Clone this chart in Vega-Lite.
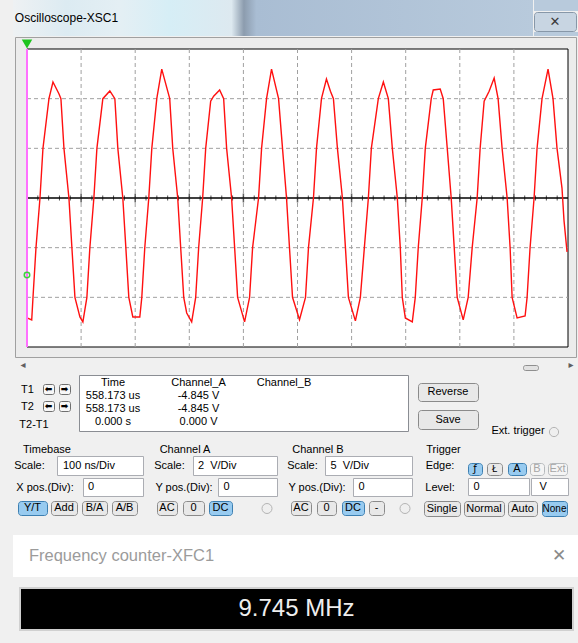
{
"$schema": "https://vega.github.io/schema/vega-lite/v6.json",
"background": "#f0f0f0",
"padding": {"left": 13, "top": 0, "right": 0, "bottom": 0},
"config": {"view": {"stroke": null}, "text": {"font": "Liberation Sans", "fontSize": 11, "color": "#000000"}, "concat": {"spacing": 0}},
"spacing": 0,
"vconcat": [
 {"spacing": 0, "hconcat": [
  {"width": 107, "height": 36, "data": {"values": [{}]}, "mark": {"type": "text", "text": "Oscilloscope-XSC1", "fontSize": 12}, "view": {"fill": {"gradient": "linear", "x1": 0, "y1": 0, "x2": 1, "y2": 0, "stops": [{"offset": 0, "color": "#eef1f3"}, {"offset": 0.5, "color": "#dcebf2"}, {"offset": 1, "color": "#e4eff4"}]}}},
  {"width": 413, "height": 36, "data": {"values": []}, "mark": "point", "view": {"fill": {"gradient": "linear", "x1": 0, "y1": 0, "x2": 1, "y2": 0, "stops": [{"offset": 0, "color": "#e4eff4"}, {"offset": 0.12, "color": "#d6eef6"}, {"offset": 0.27, "color": "#dde9f0"}, {"offset": 0.3, "color": "#8c9cae"}, {"offset": 0.33, "color": "#a9bdd3"}, {"offset": 1, "color": "#b8cadc"}]}}},
  {"spacing": 0, "vconcat": [
   {"width": 44, "height": 11, "data": {"values": []}, "mark": "point", "view": {"fill": "#b8cadc"}},
   {"width": 42, "height": 19, "data": {"values": [{}]}, "mark": {"type": "text", "text": "✕", "fontSize": 13, "color": "#3a3a3a", "font": "DejaVu Sans"}, "view": {"fill": "#c8d5e2", "stroke": "#8797a8", "cornerRadius": 3}},
   {"width": 44, "height": 4, "data": {"values": []}, "mark": "point", "view": {"fill": "#b8cadc"}}
  ]}
 ]},
 {"spacing": 0, "hconcat": [
  {"width": 1, "height": 321, "data": {"values": []}, "mark": "point"},
  {"width": 561, "height": 320,
   "view": {"fill": "#ececec", "stroke": "#a0a0a0"},
   "layer": [
    {"data": {"values": [{}]},
     "mark": {"type": "rect", "fill": "#ffffff", "stroke": "#000000", "strokeWidth": 1},
     "encoding": {
      "x": {"datum": 0, "type": "quantitative", "scale": {"domain": [0, 1000], "range": [12, 553], "nice": false, "zero": false}, "axis": null},
      "x2": {"datum": 1000},
      "y": {"datum": -6, "type": "quantitative", "scale": {"domain": [-6, 6], "range": [310, 12], "nice": false, "zero": false}, "axis": null},
      "y2": {"datum": 6}}},
    {"data": {"values": [{"t": 100}, {"t": 200}, {"t": 300}, {"t": 400}, {"t": 500}, {"t": 600}, {"t": 700}, {"t": 800}, {"t": 900}]},
     "mark": {"type": "rule", "color": "#a0a0a0", "strokeDash": [4, 3], "strokeWidth": 1},
     "encoding": {"x": {"field": "t", "type": "quantitative"}, "y": {"datum": -6, "type": "quantitative"}, "y2": {"datum": 6}}},
    {"data": {"values": [{"v": -4}, {"v": -2}, {"v": 2}, {"v": 4}]},
     "mark": {"type": "rule", "color": "#a0a0a0", "strokeDash": [4, 3], "strokeWidth": 1},
     "encoding": {"y": {"field": "v", "type": "quantitative"}, "x": {"datum": 0, "type": "quantitative"}, "x2": {"datum": 1000}}},
    {"data": {"values": [{}]},
     "mark": {"type": "rule", "color": "#000000", "strokeWidth": 1.5},
     "encoding": {"y": {"datum": 0, "type": "quantitative"}, "x": {"datum": 0, "type": "quantitative"}, "x2": {"datum": 1000}}},
    {"data": {"values": [{"t": 20}, {"t": 40}, {"t": 60}, {"t": 80}, {"t": 120}, {"t": 140}, {"t": 160}, {"t": 180}, {"t": 220}, {"t": 240}, {"t": 260}, {"t": 280}, {"t": 320}, {"t": 340}, {"t": 360}, {"t": 380}, {"t": 420}, {"t": 440}, {"t": 460}, {"t": 480}, {"t": 520}, {"t": 540}, {"t": 560}, {"t": 580}, {"t": 620}, {"t": 640}, {"t": 660}, {"t": 680}, {"t": 720}, {"t": 740}, {"t": 760}, {"t": 780}, {"t": 820}, {"t": 840}, {"t": 860}, {"t": 880}, {"t": 920}, {"t": 940}, {"t": 960}, {"t": 980}]},
     "mark": {"type": "tick", "orient": "vertical", "color": "#000000", "size": 5, "thickness": 1},
     "encoding": {"x": {"field": "t", "type": "quantitative"}, "y": {"datum": 0, "type": "quantitative"}}},
    {"data": {"values": [{"t": 100}, {"t": 200}, {"t": 300}, {"t": 400}, {"t": 500}, {"t": 600}, {"t": 700}, {"t": 800}, {"t": 900}]},
     "mark": {"type": "tick", "orient": "vertical", "color": "#202020", "size": 9, "thickness": 1.5},
     "encoding": {"x": {"field": "t", "type": "quantitative"}, "y": {"datum": 0, "type": "quantitative"}}},
    {"data": {"values": [
      {"t": 0, "v": -4.83}, {"t": 8.7, "v": -4.91}, {"t": 11.1, "v": -4.0}, {"t": 16.6, "v": -2.0}, {"t": 24.0, "v": 0}, {"t": 29.5, "v": 2.0}, {"t": 40.6, "v": 4.0}, {"t": 48.0, "v": 4.67}, {"t": 59.0, "v": 4.2}, {"t": 62.7, "v": 4.0}, {"t": 68.3, "v": 2.0}, {"t": 77.5, "v": 0},
      {"t": 83.0, "v": -2.0}, {"t": 88.6, "v": -4.0}, {"t": 97.8, "v": -4.79}, {"t": 103.3, "v": -4.99}, {"t": 110.7, "v": -4.0}, {"t": 116.2, "v": -2.0}, {"t": 123.6, "v": 0}, {"t": 129.2, "v": 2.0}, {"t": 140.2, "v": 4.0}, {"t": 153.1, "v": 4.31}, {"t": 162.4, "v": 4.0}, {"t": 167.9, "v": 2.0}, {"t": 177.1, "v": 0},
      {"t": 182.7, "v": -2.0}, {"t": 188.2, "v": -4.0}, {"t": 195.6, "v": -4.79}, {"t": 208.5, "v": -4.79}, {"t": 212.2, "v": -4.0}, {"t": 217.7, "v": -2.0}, {"t": 225.1, "v": 0}, {"t": 230.7, "v": 2.0}, {"t": 239.9, "v": 4.0}, {"t": 249.1, "v": 5.19}, {"t": 263.8, "v": 4.0}, {"t": 269.4, "v": 2.0}, {"t": 278.6, "v": 0},
      {"t": 284.1, "v": -2.0}, {"t": 289.7, "v": -4.0}, {"t": 295.2, "v": -4.63}, {"t": 304.4, "v": -4.99}, {"t": 311.8, "v": -4.0}, {"t": 317.3, "v": -2.0}, {"t": 324.7, "v": 0}, {"t": 330.3, "v": 2.0}, {"t": 339.5, "v": 3.9}, {"t": 345.0, "v": 4.1}, {"t": 356.1, "v": 4.35}, {"t": 363.5, "v": 4.0}, {"t": 369.0, "v": 2.0}, {"t": 378.2, "v": 0},
      {"t": 383.8, "v": -2.0}, {"t": 389.3, "v": -4.0}, {"t": 402.2, "v": -4.99}, {"t": 411.4, "v": -4.0}, {"t": 417.0, "v": -2.0}, {"t": 428.0, "v": 0}, {"t": 433.6, "v": 2.0}, {"t": 442.8, "v": 4.0}, {"t": 452.0, "v": 5.19}, {"t": 465.0, "v": 4.0}, {"t": 472.3, "v": 2.0}, {"t": 479.7, "v": 0},
      {"t": 485.2, "v": -2.0}, {"t": 490.8, "v": -4.0}, {"t": 503.7, "v": -4.9}, {"t": 514.8, "v": -4.0}, {"t": 520.3, "v": -2.0}, {"t": 529.5, "v": 0}, {"t": 535.1, "v": 2.0}, {"t": 544.3, "v": 4.0}, {"t": 553.5, "v": 4.79}, {"t": 560.9, "v": 4.3}, {"t": 566.4, "v": 4.0}, {"t": 573.8, "v": 2.0}, {"t": 583.0, "v": 0},
      {"t": 588.6, "v": -2.0}, {"t": 594.1, "v": -4.0}, {"t": 607.0, "v": -4.95}, {"t": 616.2, "v": -4.0}, {"t": 623.6, "v": -2.0}, {"t": 631.0, "v": 0}, {"t": 636.5, "v": 2.0}, {"t": 649.4, "v": 4.0}, {"t": 658.7, "v": 4.67}, {"t": 667.9, "v": 4.0}, {"t": 675.3, "v": 2.0}, {"t": 684.5, "v": 0},
      {"t": 690.0, "v": -2.0}, {"t": 693.7, "v": -4.0}, {"t": 699.3, "v": -4.83}, {"t": 712.2, "v": -4.99}, {"t": 717.7, "v": -4.0}, {"t": 723.2, "v": -2.0}, {"t": 730.6, "v": 0}, {"t": 736.2, "v": 2.0}, {"t": 747.2, "v": 4.0}, {"t": 750.9, "v": 4.35}, {"t": 763.8, "v": 4.39}, {"t": 769.4, "v": 4.0}, {"t": 776.8, "v": 2.0}, {"t": 784.1, "v": 0},
      {"t": 789.7, "v": -2.0}, {"t": 795.2, "v": -4.0}, {"t": 806.3, "v": -4.91}, {"t": 815.5, "v": -4.0}, {"t": 822.9, "v": -2.0}, {"t": 832.1, "v": 0}, {"t": 837.6, "v": 2.0}, {"t": 845.0, "v": 3.9}, {"t": 854.2, "v": 4.3}, {"t": 863.5, "v": 4.83}, {"t": 870.8, "v": 4.0}, {"t": 878.2, "v": 2.0}, {"t": 887.5, "v": 0},
      {"t": 893.0, "v": -2.0}, {"t": 896.7, "v": -4.0}, {"t": 905.9, "v": -4.83}, {"t": 920.7, "v": -4.75}, {"t": 924.4, "v": -4.0}, {"t": 929.9, "v": -2.0}, {"t": 937.3, "v": 0}, {"t": 942.8, "v": 2.0}, {"t": 952.0, "v": 4.0}, {"t": 963.1, "v": 5.19}, {"t": 972.3, "v": 4.0}, {"t": 979.7, "v": 2.0}, {"t": 988.9, "v": 0.4}, {"t": 992.6, "v": -0.9}, {"t": 998.2, "v": -2.17}
     ]},
     "mark": {"type": "line", "color": "#ff1010", "strokeWidth": 1.4},
     "encoding": {"x": {"field": "t", "type": "quantitative"}, "y": {"field": "v", "type": "quantitative"}}},
    {"data": {"values": [{}]},
     "mark": {"type": "rule", "color": "#ff70ff", "strokeWidth": 2},
     "encoding": {"x": {"datum": 0, "type": "quantitative"}, "y": {"datum": -6, "type": "quantitative"}, "y2": {"datum": 6}}},
    {"data": {"values": [{"t": 0, "v": 6.2}]},
     "mark": {"type": "point", "shape": "triangle-down", "filled": true, "color": "#1fc41f", "size": 110, "opacity": 1},
     "encoding": {"x": {"field": "t", "type": "quantitative"}, "y": {"field": "v", "type": "quantitative"}}},
    {"data": {"values": [{"t": 0, "v": -3.1}]},
     "mark": {"type": "point", "shape": "circle", "filled": false, "color": "#3ad33a", "size": 30, "strokeWidth": 1.5, "opacity": 1},
     "encoding": {"x": {"field": "t", "type": "quantitative"}, "y": {"field": "v", "type": "quantitative"}}}
   ]}
 ]},
 {"spacing": 0, "hconcat": [
  {"width": 3, "height": 14, "data": {"values": []}, "mark": "point"},
  {"width": 14, "height": 14, "data": {"values": [{}]}, "mark": {"type": "text", "text": "◂", "font": "DejaVu Sans", "fontSize": 10, "color": "#606060"}},
  {"width": 492, "height": 14, "data": {"values": []}, "mark": "point"},
  {"spacing": 0, "vconcat": [
   {"width": 17, "height": 6, "data": {"values": []}, "mark": "point"},
   {"width": 15, "height": 5, "data": {"values": []}, "mark": "point", "view": {"fill": "#e2e2e2", "stroke": "#8f8f8f", "cornerRadius": 2}}
  ]},
  {"width": 24, "height": 14, "data": {"values": []}, "mark": "point"},
  {"width": 14, "height": 14, "data": {"values": [{}]}, "mark": {"type": "text", "text": "▸", "font": "DejaVu Sans", "fontSize": 10, "color": "#606060"}}
 ]},
 {"width": 10, "height": 2, "data": {"values": []}, "mark": "point"},
 {"spacing": 0, "hconcat": [
  {"spacing": 0, "vconcat": [
   {"width": 65, "height": 8, "data": {"values": []}, "mark": "point"},
   {"spacing": 0, "hconcat": [
    {"width": 29, "height": 12, "data": {"values": [{}]}, "mark": {"type": "text", "text": "T1"}},
    {"width": 11, "height": 10, "data": {"values": [{}]}, "mark": {"type": "text", "text": "⬅", "font": "DejaVu Sans", "fontSize": 9, "fontWeight": "bold"}, "view": {"fill": "#f7f7f7", "stroke": "#6f6f6f", "cornerRadius": 2}},
    {"width": 3, "height": 12, "data": {"values": []}, "mark": "point"},
    {"width": 11, "height": 10, "data": {"values": [{}]}, "mark": {"type": "text", "text": "➡", "font": "DejaVu Sans", "fontSize": 9, "fontWeight": "bold"}, "view": {"fill": "#f7f7f7", "stroke": "#6f6f6f", "cornerRadius": 2}}
   ]},
   {"width": 65, "height": 4, "data": {"values": []}, "mark": "point"},
   {"spacing": 0, "hconcat": [
    {"width": 29, "height": 12, "data": {"values": [{}]}, "mark": {"type": "text", "text": "T2"}},
    {"width": 11, "height": 10, "data": {"values": [{}]}, "mark": {"type": "text", "text": "⬅", "font": "DejaVu Sans", "fontSize": 9, "fontWeight": "bold"}, "view": {"fill": "#f7f7f7", "stroke": "#6f6f6f", "cornerRadius": 2}},
    {"width": 3, "height": 12, "data": {"values": []}, "mark": "point"},
    {"width": 11, "height": 10, "data": {"values": [{}]}, "mark": {"type": "text", "text": "➡", "font": "DejaVu Sans", "fontSize": 9, "fontWeight": "bold"}, "view": {"fill": "#f7f7f7", "stroke": "#6f6f6f", "cornerRadius": 2}}
   ]},
   {"width": 65, "height": 6, "data": {"values": []}, "mark": "point"},
   {"width": 42, "height": 12, "data": {"values": [{}]}, "mark": {"type": "text", "text": "T2-T1"}}
  ]},
  {"width": 329, "height": 56, "view": {"fill": "#ffffff", "stroke": "#8a8d93"},
   "data": {"values": [
    {"row": "head", "col": "Time", "label": "Time"}, {"row": "head", "col": "Channel_A", "label": "Channel_A"}, {"row": "head", "col": "Channel_B", "label": "Channel_B"},
    {"row": "T1", "col": "Time", "label": "558.173 us"}, {"row": "T1", "col": "Channel_A", "label": "-4.845 V"},
    {"row": "T2", "col": "Time", "label": "558.173 us"}, {"row": "T2", "col": "Channel_A", "label": "-4.845 V"},
    {"row": "T2-T1", "col": "Time", "label": "0.000 s"}, {"row": "T2-T1", "col": "Channel_A", "label": "0.000 V"}
   ]},
   "mark": {"type": "text", "fontSize": 11},
   "encoding": {
    "x": {"field": "col", "type": "nominal", "scale": {"type": "point", "domain": ["Time", "Channel_A", "Channel_B"], "range": [34, 205], "padding": 0}, "axis": null},
    "y": {"field": "row", "type": "nominal", "scale": {"type": "point", "domain": ["head", "T1", "T2", "T2-T1"], "range": [8, 47], "padding": 0}, "axis": null},
    "text": {"field": "label"}
   }},
  {"width": 8, "height": 58, "data": {"values": []}, "mark": "point"},
  {"spacing": 0, "vconcat": [
   {"width": 62, "height": 7, "data": {"values": []}, "mark": "point"},
   {"width": 60, "height": 18, "data": {"values": [{}]}, "mark": {"type": "text", "text": "Reverse"}, "view": {"fill": "#e8e8e8", "stroke": "#8a8a8a", "cornerRadius": 3}},
   {"width": 62, "height": 7, "data": {"values": []}, "mark": "point"},
   {"width": 60, "height": 19, "data": {"values": [{}]}, "mark": {"type": "text", "text": "Save"}, "view": {"fill": "#e8e8e8", "stroke": "#8a8a8a", "cornerRadius": 3}}
  ]},
  {"width": 9, "height": 58, "data": {"values": []}, "mark": "point"},
  {"spacing": 0, "vconcat": [
   {"width": 58, "height": 50, "data": {"values": []}, "mark": "point"},
   {"width": 58, "height": 12, "data": {"values": [{}]}, "mark": {"type": "text", "text": "Ext. trigger"}}
  ]},
  {"spacing": 0, "vconcat": [
   {"width": 14, "height": 50, "data": {"values": []}, "mark": "point"},
   {"width": 14, "height": 12, "data": {"values": [{}]}, "mark": {"type": "point", "shape": "circle", "fill": "#efefef", "stroke": "#b4b4b4", "strokeWidth": 1, "size": 85, "opacity": 1}}
  ]}
 ]},
 {"width": 10, "height": 4, "data": {"values": []}, "mark": "point"},
 {"spacing": 0, "hconcat": [
  {"spacing": 0, "vconcat": [
   {"spacing": 0, "hconcat": [
    {"width": 10, "height": 11, "data": {"values": []}, "mark": "point"},
    {"width": 48, "height": 11, "data": {"values": [{}]}, "mark": {"type": "text", "text": "Timebase"}}
   ]},
   {"spacing": 0, "hconcat": [
    {"width": 33, "height": 20, "data": {"values": [{}]}, "mark": {"type": "text", "text": "Scale:"}},
    {"width": 10, "height": 20, "data": {"values": []}, "mark": "point"},
    {"width": 86, "height": 19, "data": {"values": [{}]}, "mark": {"type": "text", "text": "100 ns/Div", "align": "left", "dx": -37}, "view": {"fill": "#ffffff", "stroke": "#abadb3"}}
   ]},
   {"width": 10, "height": 1, "data": {"values": []}, "mark": "point"},
   {"spacing": 0, "hconcat": [
    {"width": 64, "height": 19, "data": {"values": [{}]}, "mark": {"type": "text", "text": "X pos.(Div):"}},
    {"width": 5, "height": 19, "data": {"values": []}, "mark": "point"},
    {"width": 60, "height": 18, "data": {"values": [{}]}, "mark": {"type": "text", "text": "0", "align": "left", "dx": -25}, "view": {"fill": "#ffffff", "stroke": "#abadb3"}}
   ]},
   {"width": 10, "height": 3, "data": {"values": []}, "mark": "point"},
   {"spacing": 0, "hconcat": [
    {"width": 4, "height": 15, "data": {"values": []}, "mark": "point"},
    {"width": 29, "height": 14, "data": {"values": [{}]}, "mark": {"type": "text", "text": "Y/T"}, "view": {"fill": "#98cbf0", "stroke": "#3c7fb1", "cornerRadius": 3}},
    {"width": 2, "height": 15, "data": {"values": []}, "mark": "point"},
    {"width": 26, "height": 14, "data": {"values": [{}]}, "mark": {"type": "text", "text": "Add"}, "view": {"fill": "#e8e8e8", "stroke": "#8a8a8a", "cornerRadius": 3}},
    {"width": 3, "height": 15, "data": {"values": []}, "mark": "point"},
    {"width": 25, "height": 14, "data": {"values": [{}]}, "mark": {"type": "text", "text": "B/A"}, "view": {"fill": "#e8e8e8", "stroke": "#8a8a8a", "cornerRadius": 3}},
    {"width": 3, "height": 15, "data": {"values": []}, "mark": "point"},
    {"width": 25, "height": 14, "data": {"values": [{}]}, "mark": {"type": "text", "text": "A/B"}, "view": {"fill": "#e8e8e8", "stroke": "#8a8a8a", "cornerRadius": 3}}
   ]}
  ]},
  {"width": 9, "height": 10, "data": {"values": []}, "mark": "point"},
  {"spacing": 0, "vconcat": [
   {"spacing": 0, "hconcat": [
    {"width": 6, "height": 11, "data": {"values": []}, "mark": "point"},
    {"width": 52, "height": 11, "data": {"values": [{}]}, "mark": {"type": "text", "text": "Channel A"}}
   ]},
   {"spacing": 0, "hconcat": [
    {"width": 33, "height": 20, "data": {"values": [{}]}, "mark": {"type": "text", "text": "Scale:"}},
    {"width": 6, "height": 20, "data": {"values": []}, "mark": "point"},
    {"width": 84, "height": 19, "data": {"values": [{}]}, "mark": {"type": "text", "text": "2\u00a0\u00a0V/Div", "align": "left", "dx": -37}, "view": {"fill": "#ffffff", "stroke": "#abadb3"}}
   ]},
   {"width": 10, "height": 1, "data": {"values": []}, "mark": "point"},
   {"spacing": 0, "hconcat": [
    {"width": 62, "height": 19, "data": {"values": [{}]}, "mark": {"type": "text", "text": "Y pos.(Div):"}},
    {"width": 2, "height": 19, "data": {"values": []}, "mark": "point"},
    {"width": 59, "height": 18, "data": {"values": [{}]}, "mark": {"type": "text", "text": "0", "align": "left", "dx": -24}, "view": {"fill": "#ffffff", "stroke": "#abadb3"}}
   ]},
   {"width": 10, "height": 3, "data": {"values": []}, "mark": "point"},
   {"spacing": 0, "hconcat": [
    {"width": 3, "height": 15, "data": {"values": []}, "mark": "point"},
    {"width": 20, "height": 14, "data": {"values": [{}]}, "mark": {"type": "text", "text": "AC"}, "view": {"fill": "#e8e8e8", "stroke": "#8a8a8a", "cornerRadius": 3}},
    {"width": 4, "height": 15, "data": {"values": []}, "mark": "point"},
    {"width": 21, "height": 14, "data": {"values": [{}]}, "mark": {"type": "text", "text": "0"}, "view": {"fill": "#e8e8e8", "stroke": "#8a8a8a", "cornerRadius": 3}},
    {"width": 3, "height": 15, "data": {"values": []}, "mark": "point"},
    {"width": 23, "height": 14, "data": {"values": [{}]}, "mark": {"type": "text", "text": "DC"}, "view": {"fill": "#98cbf0", "stroke": "#3c7fb1", "cornerRadius": 3}},
    {"width": 26, "height": 15, "data": {"values": []}, "mark": "point"},
    {"width": 16, "height": 15, "data": {"values": [{}]}, "mark": {"type": "point", "shape": "circle", "fill": "#efefef", "stroke": "#b4b4b4", "strokeWidth": 1, "size": 100, "opacity": 1}}
   ]}
  ]},
  {"width": 8, "height": 10, "data": {"values": []}, "mark": "point"},
  {"spacing": 0, "vconcat": [
   {"spacing": 0, "hconcat": [
    {"width": 6, "height": 11, "data": {"values": []}, "mark": "point"},
    {"width": 52, "height": 11, "data": {"values": [{}]}, "mark": {"type": "text", "text": "Channel B"}}
   ]},
   {"spacing": 0, "hconcat": [
    {"width": 33, "height": 20, "data": {"values": [{}]}, "mark": {"type": "text", "text": "Scale:"}},
    {"width": 5, "height": 20, "data": {"values": []}, "mark": "point"},
    {"width": 87, "height": 19, "data": {"values": [{}]}, "mark": {"type": "text", "text": "5\u00a0\u00a0V/Div", "align": "left", "dx": -38}, "view": {"fill": "#ffffff", "stroke": "#abadb3"}}
   ]},
   {"width": 10, "height": 1, "data": {"values": []}, "mark": "point"},
   {"spacing": 0, "hconcat": [
    {"width": 62, "height": 19, "data": {"values": [{}]}, "mark": {"type": "text", "text": "Y pos.(Div):"}},
    {"width": 4, "height": 19, "data": {"values": []}, "mark": "point"},
    {"width": 59, "height": 18, "data": {"values": [{}]}, "mark": {"type": "text", "text": "0", "align": "left", "dx": -24}, "view": {"fill": "#ffffff", "stroke": "#abadb3"}}
   ]},
   {"width": 10, "height": 3, "data": {"values": []}, "mark": "point"},
   {"spacing": 0, "hconcat": [
    {"width": 4, "height": 15, "data": {"values": []}, "mark": "point"},
    {"width": 20, "height": 14, "data": {"values": [{}]}, "mark": {"type": "text", "text": "AC"}, "view": {"fill": "#e8e8e8", "stroke": "#8a8a8a", "cornerRadius": 3}},
    {"width": 4, "height": 15, "data": {"values": []}, "mark": "point"},
    {"width": 19, "height": 14, "data": {"values": [{}]}, "mark": {"type": "text", "text": "0"}, "view": {"fill": "#e8e8e8", "stroke": "#8a8a8a", "cornerRadius": 3}},
    {"width": 4, "height": 15, "data": {"values": []}, "mark": "point"},
    {"width": 22, "height": 14, "data": {"values": [{}]}, "mark": {"type": "text", "text": "DC"}, "view": {"fill": "#98cbf0", "stroke": "#3c7fb1", "cornerRadius": 3}},
    {"width": 3, "height": 15, "data": {"values": []}, "mark": "point"},
    {"width": 15, "height": 14, "data": {"values": [{}]}, "mark": {"type": "text", "text": "-"}, "view": {"fill": "#e8e8e8", "stroke": "#8a8a8a", "cornerRadius": 3}},
    {"width": 12, "height": 15, "data": {"values": []}, "mark": "point"},
    {"width": 16, "height": 15, "data": {"values": [{}]}, "mark": {"type": "point", "shape": "circle", "fill": "#efefef", "stroke": "#b4b4b4", "strokeWidth": 1, "size": 100, "opacity": 1}}
   ]}
  ]},
  {"width": 9, "height": 10, "data": {"values": []}, "mark": "point"},
  {"spacing": 0, "vconcat": [
   {"spacing": 0, "hconcat": [
    {"width": 3, "height": 12, "data": {"values": []}, "mark": "point"},
    {"width": 37, "height": 12, "data": {"values": [{}]}, "mark": {"type": "text", "text": "Trigger"}}
   ]},
   {"spacing": 0, "hconcat": [
    {"width": 36, "height": 20, "data": {"values": [{}]}, "mark": {"type": "text", "text": "Edge:"}},
    {"width": 9, "height": 20, "data": {"values": []}, "mark": "point"},
    {"spacing": 0, "vconcat": [
     {"width": 10, "height": 6, "data": {"values": []}, "mark": "point"},
     {"spacing": 0, "hconcat": [
      {"width": 14, "height": 12, "data": {"values": [{}]}, "mark": {"type": "text", "text": "ƒ", "font": "DejaVu Sans", "fontSize": 10}, "view": {"fill": "#98cbf0", "stroke": "#3c7fb1", "cornerRadius": 3}},
      {"width": 3, "height": 13, "data": {"values": []}, "mark": "point"},
      {"width": 15, "height": 12, "data": {"values": [{}]}, "mark": {"type": "text", "text": "Ł", "font": "DejaVu Sans", "fontSize": 9}, "view": {"fill": "#e8e8e8", "stroke": "#8a8a8a", "cornerRadius": 3}},
      {"width": 4, "height": 13, "data": {"values": []}, "mark": "point"},
      {"width": 18, "height": 12, "data": {"values": [{}]}, "mark": {"type": "text", "text": "A"}, "view": {"fill": "#98cbf0", "stroke": "#3c7fb1", "cornerRadius": 3}},
      {"width": 2, "height": 13, "data": {"values": []}, "mark": "point"},
      {"width": 14, "height": 12, "data": {"values": [{}]}, "mark": {"type": "text", "text": "B", "color": "#a6a6a6"}, "view": {"fill": "#f4f4f4", "stroke": "#b5b9bc", "cornerRadius": 3}},
      {"width": 2, "height": 13, "data": {"values": []}, "mark": "point"},
      {"width": 19, "height": 12, "data": {"values": [{}]}, "mark": {"type": "text", "text": "Ext", "color": "#a6a6a6"}, "view": {"fill": "#f4f4f4", "stroke": "#b5b9bc", "cornerRadius": 3}}
     ]}
    ]}
   ]},
   {"width": 10, "height": 1, "data": {"values": []}, "mark": "point"},
   {"spacing": 0, "hconcat": [
    {"width": 36, "height": 19, "data": {"values": [{}]}, "mark": {"type": "text", "text": "Level:"}},
    {"width": 9, "height": 19, "data": {"values": []}, "mark": "point"},
    {"width": 61, "height": 17, "data": {"values": [{}]}, "mark": {"type": "text", "text": "0", "align": "left", "dx": -25}, "view": {"fill": "#ffffff", "stroke": "#abadb3"}},
    {"width": 37, "height": 17, "data": {"values": [{}]}, "mark": {"type": "text", "text": "V", "align": "left", "dx": -10}, "view": {"fill": "#ffffff", "stroke": "#abadb3"}}
   ]},
   {"width": 10, "height": 3, "data": {"values": []}, "mark": "point"},
   {"spacing": 0, "hconcat": [
    {"width": 1, "height": 16, "data": {"values": []}, "mark": "point"},
    {"width": 36, "height": 15, "data": {"values": [{}]}, "mark": {"type": "text", "text": "Single"}, "view": {"fill": "#e8e8e8", "stroke": "#8a8a8a", "cornerRadius": 3}},
    {"width": 2, "height": 16, "data": {"values": []}, "mark": "point"},
    {"width": 40, "height": 15, "data": {"values": [{}]}, "mark": {"type": "text", "text": "Normal"}, "view": {"fill": "#e8e8e8", "stroke": "#8a8a8a", "cornerRadius": 3}},
    {"width": 2, "height": 16, "data": {"values": []}, "mark": "point"},
    {"width": 29, "height": 15, "data": {"values": [{}]}, "mark": {"type": "text", "text": "Auto"}, "view": {"fill": "#e8e8e8", "stroke": "#8a8a8a", "cornerRadius": 3}},
    {"width": 3, "height": 16, "data": {"values": []}, "mark": "point"},
    {"width": 25, "height": 15, "data": {"values": [{}]}, "mark": {"type": "text", "text": "None", "fontSize": 10}, "view": {"fill": "#98cbf0", "stroke": "#3c7fb1", "cornerRadius": 3}}
   ]}
  ]}
 ]},
 {"width": 10, "height": 18, "data": {"values": []}, "mark": "point"},
 {"spacing": 0, "hconcat": [
  {"width": 217, "height": 42, "data": {"values": [{}]}, "mark": {"type": "text", "text": "Frequency counter-XFC1", "fontSize": 16.5, "color": "#9b9b9b"}, "view": {"fill": "#ffffff"}},
  {"width": 310, "height": 42, "data": {"values": []}, "mark": "point", "view": {"fill": "#ffffff"}},
  {"width": 38, "height": 42, "data": {"values": [{}]}, "mark": {"type": "text", "text": "✕", "font": "DejaVu Sans", "fontSize": 17, "color": "#8a8a8a"}, "view": {"fill": "#ffffff"}}
 ]},
 {"width": 10, "height": 10, "data": {"values": []}, "mark": "point"},
 {"spacing": 0, "hconcat": [
  {"width": 6, "height": 42, "data": {"values": []}, "mark": "point"},
  {"width": 553, "height": 42, "data": {"values": [{}]}, "mark": {"type": "text", "text": "9.745 MHz", "fontSize": 24, "color": "#eeeeee"}, "view": {"fill": "#000000", "stroke": "#d0d0d0", "strokeWidth": 2}}
 ]},
 {"width": 10, "height": 14, "data": {"values": []}, "mark": "point"}
]
}
